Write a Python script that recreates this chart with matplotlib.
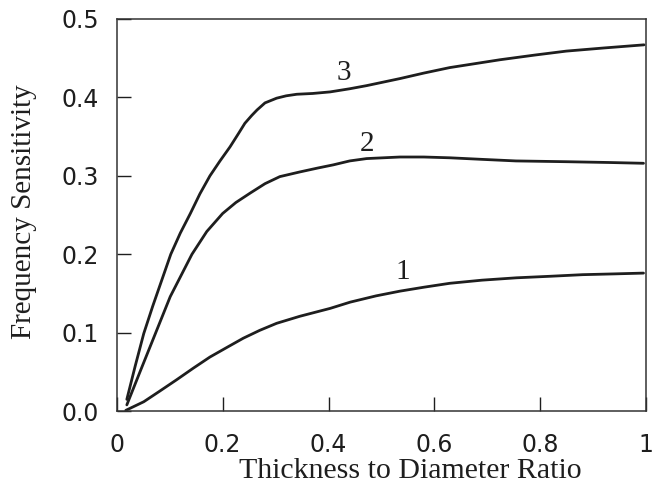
import matplotlib
matplotlib.use("Agg")
import matplotlib.pyplot as plt

# values
x1 = [0.017, 0.051, 0.08, 0.113, 0.145, 0.176, 0.21, 0.239, 0.27, 0.302, 0.346,
      0.403, 0.441, 0.49, 0.535, 0.58, 0.629, 0.69, 0.755, 0.82, 0.88, 0.94, 0.995]
y1 = [0.001, 0.012, 0.025, 0.040, 0.055, 0.069, 0.082, 0.093, 0.103, 0.112, 0.121,
      0.131, 0.139, 0.147, 0.153, 0.158, 0.163, 0.167, 0.170, 0.172, 0.174, 0.175, 0.176]

x2 = [0.019, 0.045, 0.073, 0.101, 0.142, 0.17, 0.2, 0.225, 0.252, 0.28, 0.308,
      0.346, 0.38, 0.409, 0.44, 0.472, 0.535, 0.58, 0.629, 0.69, 0.754, 0.85, 0.93, 0.995]
y2 = [0.008, 0.052, 0.099, 0.146, 0.200, 0.229, 0.252, 0.266, 0.278, 0.290, 0.299,
      0.305, 0.310, 0.314, 0.319, 0.322, 0.324, 0.324, 0.323, 0.321, 0.319, 0.318, 0.317, 0.316]

x3 = [0.019, 0.035, 0.051, 0.068, 0.085, 0.102, 0.12, 0.139, 0.157, 0.176, 0.195,
      0.214, 0.23, 0.242, 0.255, 0.265, 0.28, 0.302, 0.32, 0.34, 0.37, 0.403, 0.44,
      0.472, 0.535, 0.58, 0.629, 0.724, 0.79, 0.849, 0.92, 0.996]
y3 = [0.015, 0.058, 0.099, 0.134, 0.167, 0.200, 0.227, 0.252, 0.277, 0.300, 0.319,
      0.337, 0.354, 0.367, 0.377, 0.384, 0.393, 0.399, 0.402, 0.404, 0.405, 0.407, 0.411,
      0.415, 0.424, 0.431, 0.438, 0.448, 0.454, 0.459, 0.463, 0.467]

curve_labels = ["1", "2", "3"]
label_x = [0.541, 0.472, 0.428]
label_y = [0.178, 0.341, 0.431]

xticks = [0, 0.2, 0.4, 0.6, 0.8, 1]
xticklabels = ["0", "0.2", "0.4", "0.6", "0.8", "1"]
yticks = [0.0, 0.1, 0.2, 0.3, 0.4, 0.5]
yticklabels = ["0.0", "0.1", "0.2", "0.3", "0.4", "0.5"]

serif = "Liberation Serif"
ink = "#1e1e1e"

fig = plt.figure(figsize=(6.56, 4.86), dpi=100)
ax = fig.add_axes([0.178, 0.154, 0.807, 0.807])

for xs, ys in [(x1, y1), (x2, y2), (x3, y3)]:
    ax.plot(xs, ys, color=ink, lw=2.0, solid_capstyle="round")

for txt, lx, ly in zip(curve_labels, label_x, label_y):
    ax.text(lx, ly, txt, family=serif, fontsize=21, ha="center", va="center",
            color=ink)

ax.set_xlim(0, 1)
ax.set_ylim(0, 0.5)
ax.set_xticks(xticks)
ax.set_xticklabels(xticklabels)
ax.set_yticks(yticks)
ax.set_yticklabels(yticklabels)
ax.tick_params(direction="in", length=10, width=1.0, labelsize=17, colors=ink,
               top=False, right=False)
ax.tick_params(axis="x", pad=16)
ax.tick_params(axis="y", pad=13)
for lab in ax.get_xticklabels() + ax.get_yticklabels():
    lab.set_family("DejaVu Sans")

for sp in ax.spines.values():
    sp.set_linewidth(1.1)
    sp.set_color("#333333")

ax.set_xlabel("Thickness to Diameter Ratio", family=serif, fontsize=21.5, color=ink)
ax.xaxis.set_label_coords(0.555, -0.12)
ax.set_ylabel("Frequency Sensitivity", family=serif, fontsize=21, color=ink)
ax.yaxis.set_label_coords(-0.15, 0.51)

fig.savefig("out.png", dpi=100)
